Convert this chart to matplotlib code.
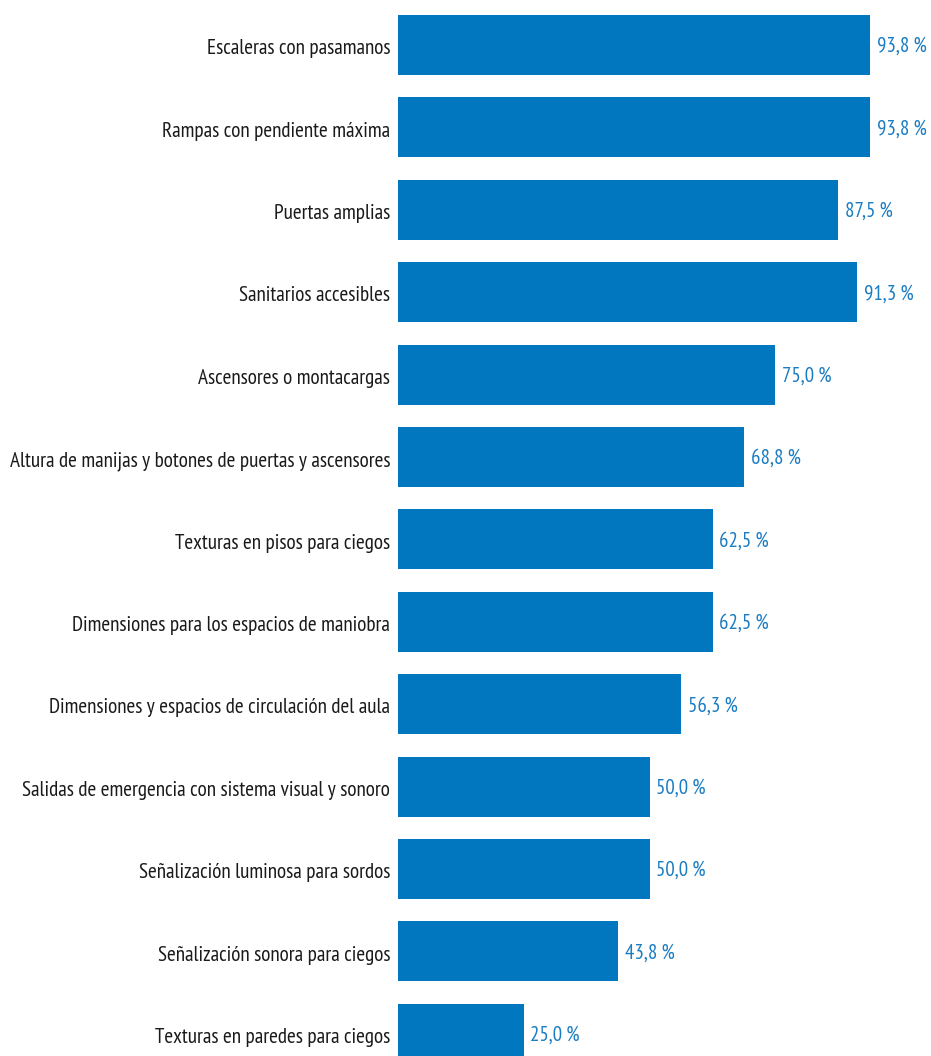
import matplotlib.pyplot as plt

# categorías y porcentajes
categorias = [
    "Escaleras con pasamanos",
    "Rampas con pendiente máxima",
    "Puertas amplias",
    "Sanitarios accesibles",
    "Ascensores o montacargas",
    "Altura de manijas y botones de puertas y ascensores",
    "Texturas en pisos para ciegos",
    "Dimensiones para los espacios de maniobra",
    "Dimensiones y espacios de circulación del aula",
    "Salidas de emergencia con sistema visual y sonoro",
    "Señalización luminosa para sordos",
    "Señalización sonora para ciegos",
    "Texturas en paredes para ciegos",
]
valores = [93.8, 93.8, 87.5, 91.3, 75.0, 68.8, 62.5, 62.5, 56.3, 50.0, 50.0, 43.8, 25.0]

azul = "#0077bf"
fuente = ["PT Sans Narrow", "DejaVu Sans"]

fig = plt.figure(figsize=(9.31, 10.56), dpi=100)
ax = fig.add_axes([398 / 931, 0, 533 / 931, 1])

pos = list(range(len(categorias)))
ax.barh(pos, valores, height=0.728, color=azul)

for p, v in zip(pos, valores):
    txt = f"{v:.1f}".replace(".", ",") + "\u2009%"
    ax.text(v + 1.3, p + 0.02, txt, va="center", ha="left", color="#1a7cc2",
            fontsize=15, family=fuente)

ax.set_xlim(0, 533 / 5.032)
ax.set_ylim(12.27, -0.546)
ax.set_yticks([p + 0.02 for p in pos])
ax.set_yticklabels(categorias, fontsize=15.2, family=fuente, color="#1a1a1a")
ax.tick_params(axis="y", length=0, pad=5.5)
ax.set_xticks([])
for s in ax.spines.values():
    s.set_visible(False)

fig.savefig("out.png", dpi=100)
